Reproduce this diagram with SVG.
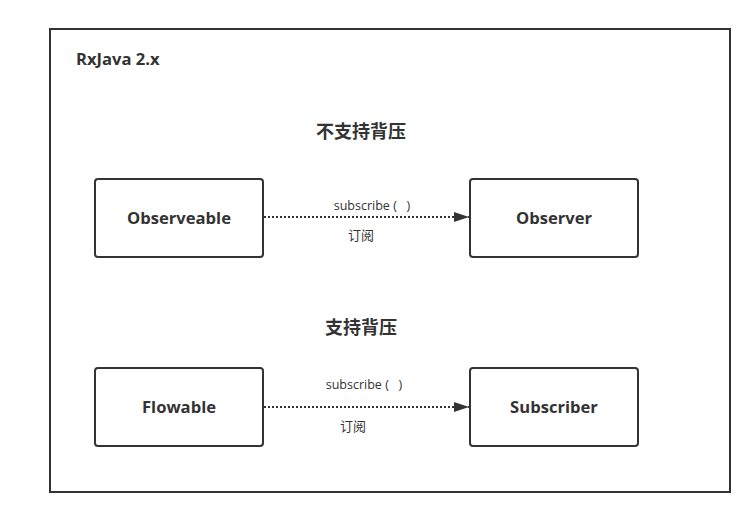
<svg xmlns="http://www.w3.org/2000/svg" width="751" height="524" viewBox="0 0 751 524">
<style>
.box{fill:#fff;stroke:#333;stroke-width:2}
.t{font-family:"Open Sans","Noto Sans CJK SC",sans-serif;fill:#333}
.b{font-weight:bold;font-size:16.6px}
.h{font-weight:bold;font-size:18px}
.s{font-size:12.5px}
.cs{font-size:13px}
.c{font-family:"Noto Sans CJK SC",sans-serif;fill:#333}
.ln{stroke:#333;stroke-width:2;stroke-dasharray:2 2;fill:none}
</style>
<defs>
<marker id="ah" markerWidth="16" markerHeight="12" refX="15" refY="5" orient="auto" markerUnits="userSpaceOnUse">
<path d="M0,0 L15,5 L0,10 Z" fill="#333"/>
</marker>
</defs>
<rect width="751" height="524" fill="#fff"/>
<g id="frame">
<rect x="50" y="29" width="680" height="463" fill="none" stroke="#333" stroke-width="2"/>
<text class="t b" x="76" y="65">RxJava 2.x</text>
</g>
<g id="title1"><text class="c h" x="361" y="138" text-anchor="middle">不支持背压</text></g>
<g id="title2"><text class="c h" x="361" y="334" text-anchor="middle">支持背压</text></g>
<g id="observeable">
<rect class="box" x="95" y="179" width="168" height="78" rx="3"/>
<text class="t b" x="179" y="224" text-anchor="middle">Observeable</text>
</g>
<g id="observer">
<rect class="box" x="470" y="179" width="168" height="78" rx="3"/>
<text class="t b" x="554" y="224" text-anchor="middle">Observer</text>
</g>
<g id="flowable">
<rect class="box" x="95" y="368" width="168" height="78" rx="3"/>
<text class="t b" x="179" y="413" text-anchor="middle">Flowable</text>
</g>
<g id="subscriber">
<rect class="box" x="470" y="368" width="168" height="78" rx="3"/>
<text class="t b" x="554" y="413" text-anchor="middle">Subscriber</text>
</g>
<g id="connectors">
<line class="ln" x1="264" y1="217" x2="469" y2="217" marker-end="url(#ah)"/>
<text class="t s" x="372" y="210" text-anchor="middle" xml:space="preserve">subscribe (   )</text>
<text class="c cs" x="361" y="240" text-anchor="middle">订阅</text>
<line class="ln" x1="264" y1="407" x2="469" y2="407" marker-end="url(#ah)"/>
<text class="t s" x="364" y="389" text-anchor="middle" xml:space="preserve">subscribe (   )</text>
<text class="c cs" x="353" y="431" text-anchor="middle">订阅</text>
</g>
</svg>
